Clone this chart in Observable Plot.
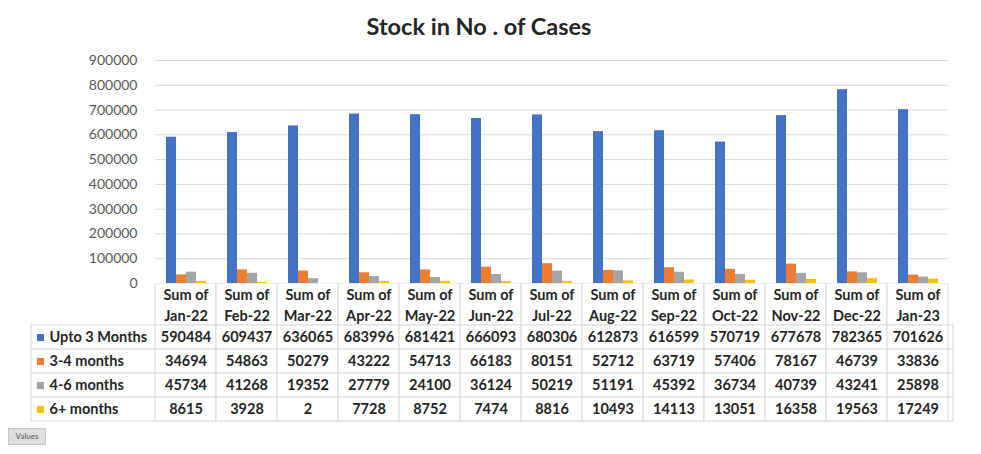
<!DOCTYPE html>
<html>
<head>
<meta charset="utf-8">
<script src="https://cdn.jsdelivr.net/npm/d3@7"></script>
<script src="https://cdn.jsdelivr.net/npm/@observablehq/plot@0.6"></script>
<style>
  html, body { margin: 0; padding: 0; background: #ffffff; }
  #wrap { position: relative; width: 981px; height: 454px; overflow: hidden; font-family: Lato, "Open Sans", sans-serif; }
  #title { position: absolute; left: 0; top: 12px; width: 958px; text-align: center; font-size: 23.5px; font-weight: bold; color: #262626; }
  #chart { position: absolute; left: 0; top: 40px; }
  #table { position: absolute; left: 0; top: 283px; }
  #values { position: absolute; left: 8px; top: 428px; width: 36px; height: 15px; background: #dedede; border: 1px solid #c6c6c6; font-size: 8px; color: #555; line-height: 15px; text-align: center; }
</style>
</head>
<body>
<div id="wrap">
  <div id="title">Stock in No . of Cases</div>
  <div id="chart"></div>
  <div id="table"></div>
  <div id="values">Values</div>
</div>
<script>
const months = ["Jan-22","Feb-22","Mar-22","Apr-22","May-22","Jun-22","Jul-22","Aug-22","Sep-22","Oct-22","Nov-22","Dec-22","Jan-23"];
const series = ["Upto 3 Months","3-4 months","4-6 months","6+ months"];
const upto3Months = [590484,609437,636065,683996,681421,666093,680306,612873,616599,570719,677678,782365,701626];
const months3to4  = [34694,54863,50279,43222,54713,66183,80151,52712,63719,57406,78167,46739,33836];
const months4to6  = [45734,41268,19352,27779,24100,36124,50219,51191,45392,36734,40739,43241,25898];
const months6plus = [8615,3928,2,7728,8752,7474,8816,10493,14113,13051,16358,19563,17249];
const yTicks = [0,100000,200000,300000,400000,500000,600000,700000,800000,900000];
const colors = ["#4472C4","#ED7D31","#A5A5A5","#FFC000"];

const bySeries = [upto3Months, months3to4, months4to6, months6plus];
const data = series.flatMap((s, j) => months.map((m, i) => ({month: m, series: s, value: bySeries[j][i]})));

const font = "Lato, 'Open Sans', sans-serif";

const chart = Plot.plot({
  width: 981, height: 255,
  marginTop: 20, marginBottom: 12, marginLeft: 150, marginRight: 28,
  style: {background: "transparent", fontFamily: font, fontSize: "14px", color: "#595959"},
  fx: {domain: months, padding: 0, axis: null},
  x: {domain: series, paddingInner: 0, paddingOuter: 0.8, axis: null},
  y: {domain: [0, 900000], ticks: yTicks, tickFormat: d => String(d), tickSize: 0, tickPadding: 18, label: null},
  color: {domain: series, range: colors},
  marks: [
    Plot.ruleY(yTicks, {stroke: "#d9d9d9"}),
    Plot.barY(data, {fx: "month", x: "series", y: "value", fill: "series"})
  ]
});
document.getElementById("chart").append(chart);

const table = Plot.plot({
  width: 981, height: 139,
  marginTop: 18, marginBottom: 1, marginLeft: 150, marginRight: 28,
  style: {background: "transparent", fontFamily: font, fontSize: "14.5px", color: "#262626"},
  x: {domain: months, padding: 0, axis: null},
  y: {domain: ["hdr", ...series], padding: 0, axis: null},
  color: {domain: series, range: colors},
  marks: [
    Plot.cell(series, {y: d => d, insetLeft: -119, fill: "white", stroke: "#d9d9d9"}),
    Plot.cell(months, {x: d => d, y: () => "hdr", insetTop: -18, fill: "white", stroke: "#d9d9d9"}),
    Plot.cell(data, {x: "month", y: "series", fill: "white", stroke: "#d9d9d9"}),
    Plot.text(months, {x: d => d, y: () => "hdr", text: d => "Sum of\n" + d, lineHeight: 1.45, dy: -9.5, fontWeight: "bold", fill: "#262626"}),
    Plot.text(data, {x: "month", y: "series", text: d => String(d.value), fontWeight: "bold", fill: "#262626"}),
    Plot.dot(series, {y: d => d, frameAnchor: "left", dx: -110, symbol: "square", r: 4, fill: d => d, stroke: null}),
    Plot.text(series, {y: d => d, frameAnchor: "left", dx: -101, textAnchor: "start", text: d => d, fontWeight: "bold", fill: "#262626"})
  ]
});
document.getElementById("table").append(table);
</script>
</body>
</html>
